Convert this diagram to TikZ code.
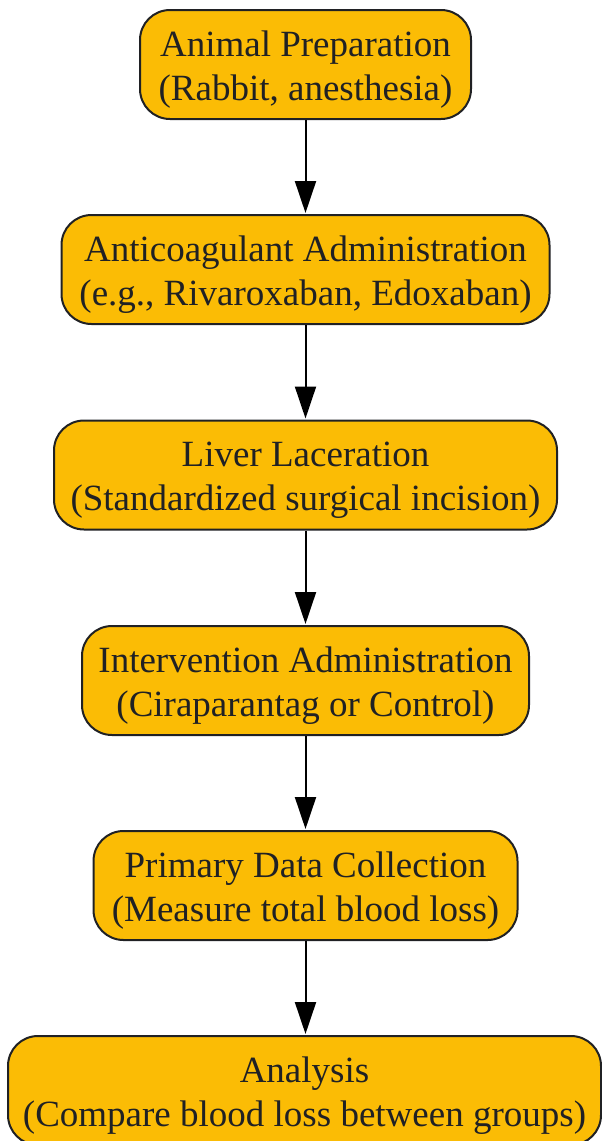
\documentclass[tikz,border=0pt]{standalone}
\usepackage{fontspec}
\setmainfont{Liberation Serif}
\usetikzlibrary{arrows.meta}
\definecolor{boxfill}{HTML}{FBBC05}
\definecolor{boxline}{HTML}{202124}
\newcommand{\topstrut}{\rule{0pt}{36pt}}
\newcommand{\botstrut}{\rule[-9pt]{0pt}{0pt}}
\begin{document}
\begin{tikzpicture}[x=1pt,y=1pt,
  stepbox/.style={draw=boxline, line width=2pt, fill=boxfill, rounded corners=30pt,
    align=center, text=boxline, font=\fontsize{37}{44}\selectfont,
    minimum height=109pt, inner sep=0pt},
  flow/.style={draw=black, line width=2pt, -{Triangle[length=32pt,width=21pt]}, shorten >=1pt}]
\useasboundingbox (0,0) rectangle (602,-1141);
\node[stepbox, minimum width=331pt] (n1) at (305.5,-64.5) {\topstrut Animal Preparation\\(Rabbit, anesthesia)\botstrut};
\node[stepbox, minimum width=488pt] (n2) at (305.5,-269.5) {\topstrut Anticoagulant Administration\\(e.g., Rivaroxaban, Edoxaban)\botstrut};
\node[stepbox, minimum width=503pt] (n3) at (305.5,-475) {\topstrut Liver Laceration\\(Standardized surgical incision)\botstrut};
\node[stepbox, minimum width=447pt] (n4) at (305.5,-680.5) {\topstrut Intervention Administration\\(Ciraparantag or Control)\botstrut};
\node[stepbox, minimum width=424pt] (n5) at (305.5,-885.5) {\topstrut Primary Data Collection\\(Measure total blood loss)\botstrut};
\node[stepbox, minimum width=593pt] (n6) at (304.5,-1090.5) {\topstrut Analysis\\(Compare blood loss between groups)\botstrut};
\draw[flow] (n1) -- (n2);
\draw[flow] (n2) -- (n3);
\draw[flow] (n3) -- (n4);
\draw[flow] (n4) -- (n5);
\draw[flow] (n5.south) -- (n5.south |- n6.north);
\end{tikzpicture}
\end{document}
